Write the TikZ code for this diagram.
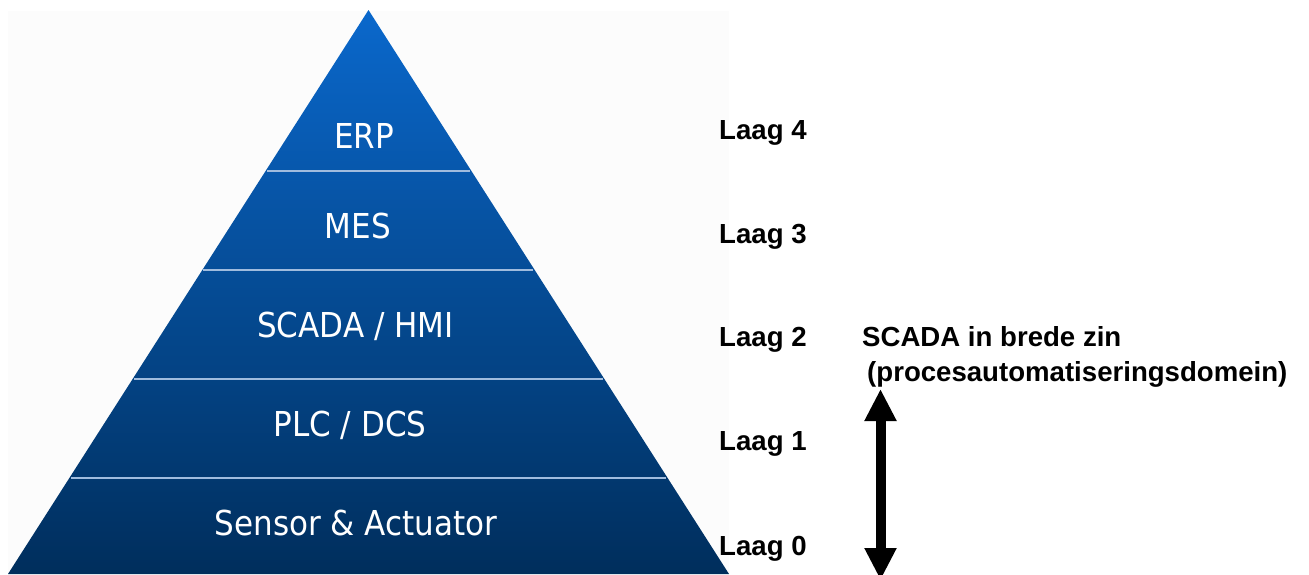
\documentclass[tikz,border=0pt]{standalone}
\usepackage{fontspec}
\setmainfont{Liberation Sans}
\newfontfamily\pyrfont{DejaVu Sans}
\usetikzlibrary{arrows.meta}
\definecolor{pyrtop}{RGB}{10,104,204}
\definecolor{pyrbot}{RGB}{0,46,92}
\definecolor{divline}{RGB}{160,188,222}
\definecolor{slidebg}{RGB}{252,252,252}
\begin{document}
\begin{tikzpicture}[x=1pt,y=-1pt,
  layer/.style={text=white, font=\pyrfont\fontsize{33}{33}\selectfont, anchor=base, inner sep=0pt},
  laag/.style={text=black, font=\bfseries\fontsize{27.6}{27.6}\selectfont, anchor=base west, inner sep=0pt},
  divider/.style={draw=divline, line width=1.5pt},
  bigarrow/.style={line width=10pt, {Triangle[width=30pt,length=32pt]}-{Triangle[width=30pt,length=32pt]}}]
\useasboundingbox (0,0) rectangle (1309,574);
\fill[slidebg] (8,11) rectangle (729,574);
% pyramid
\coordinate (apex) at (368.5,10);
\coordinate (bl) at (8,574);
\coordinate (br) at (729,574);
\shade[top color=pyrtop, bottom color=pyrbot] (apex) -- (br) -- (bl) -- cycle;
% dividers
\coordinate (d1l) at (267,171); \coordinate (d1r) at (470,171);
\coordinate (d2l) at (203,270); \coordinate (d2r) at (533,270);
\coordinate (d3l) at (134,379); \coordinate (d3r) at (603,379);
\coordinate (d4l) at (71,478);  \coordinate (d4r) at (666,478);
\draw[divider] (d1l) -- (d1r);
\draw[divider] (d2l) -- (d2r);
\draw[divider] (d3l) -- (d3r);
\draw[divider] (d4l) -- (d4r);
% layer texts
\node[layer] (erp) at (364,148) {\scalebox{0.94}[1.04]{ERP}};
\node[layer] (mes) at (358,238) {\scalebox{0.94}[1.04]{MES}};
\node[layer] (scada) at (355.5,337) {\scalebox{0.94}[1.04]{SCADA / HMI}};
\node[layer] (plc) at (350,436) {\scalebox{0.94}[1.04]{PLC / DCS}};
\node[layer] (sensor) at (356,535) {\scalebox{0.94}[1.04]{Sensor \& Actuator}};
% level labels
\node[laag] (l4) at (719,139) {Laag 4};
\node[laag] (l3) at (719,243) {Laag 3};
\node[laag] (l2) at (719,346) {Laag 2};
\node[laag] (l1) at (719,450) {Laag 1};
\node[laag] (l0) at (719,555) {Laag 0};
\node[laag] (note1) at (862,346) {SCADA in brede zin};
\node[laag] (note2) at (867,381) {(procesautomatiseringsdomein)};
% arrow
\coordinate (atop) at (880.5,389);
\coordinate (abot) at (880.5,580);
\begin{scope}
\clip (0,0) rectangle (1309,574);
\draw[bigarrow] (atop) -- (abot);
\end{scope}
\end{tikzpicture}
\end{document}
